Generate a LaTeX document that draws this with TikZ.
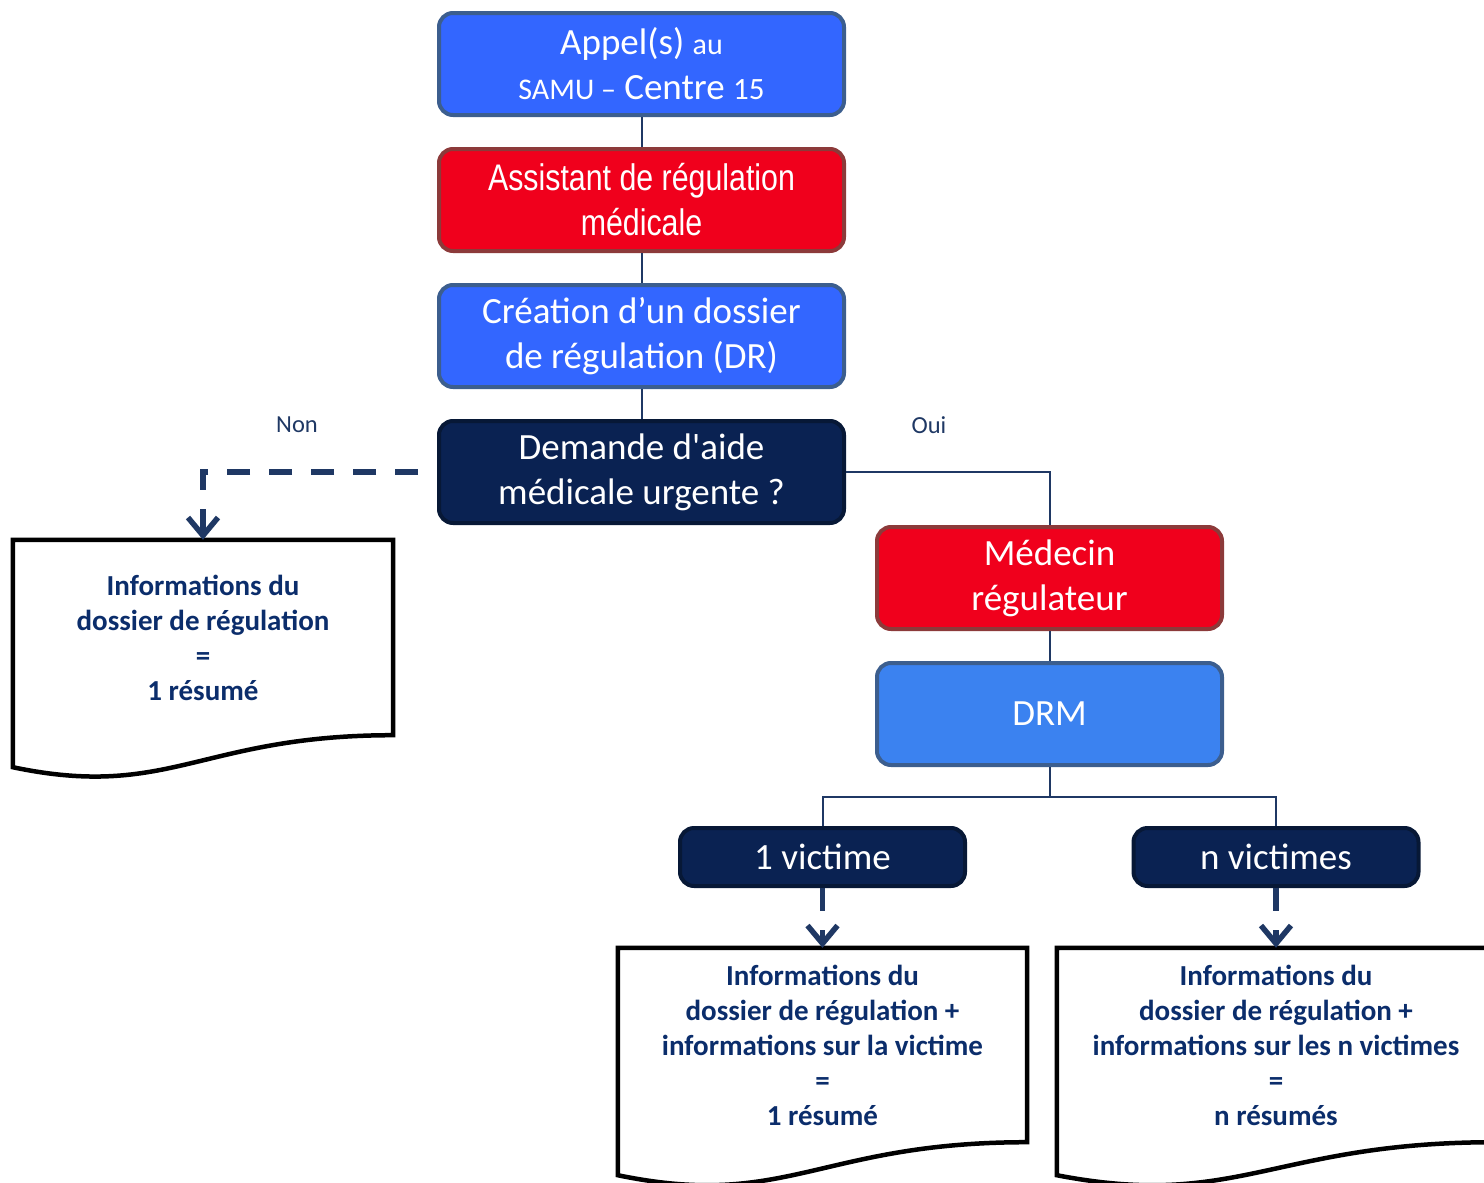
\documentclass[tikz,border=0pt]{standalone}
\usepackage{fontspec}
\setmainfont{Carlito}
\newfontfamily\narrowfont{Liberation Sans}[FakeStretch=0.82]
\newfontfamily\straightfont{Carlito}[Ligatures=ResetAll]
\usetikzlibrary{positioning,arrows.meta}

\definecolor{appelblue}{HTML}{3366FF}
\definecolor{drmblue}{HTML}{3B82F0}
\definecolor{blueedge}{HTML}{3C5E8E}
\definecolor{alertred}{HTML}{F0001C}
\definecolor{rededge}{HTML}{8C3A3A}
\definecolor{navy}{HTML}{0A2252}
\definecolor{navyedge}{HTML}{071836}
\definecolor{linkblue}{HTML}{1F3864}
\definecolor{doctext}{HTML}{0B2D6B}

\begin{document}
\begin{tikzpicture}[x=1pt, y=-1pt,
    box/.style={rectangle, rounded corners=14pt, line width=4pt, align=center,
        text=white, inner sep=0pt, minimum width=405pt, minimum height=102pt,
        font=\fontsize{37}{45}\selectfont},
    bluebox/.style={box, fill=appelblue, draw=blueedge},
    redbox/.style={box, fill=alertred, draw=rededge},
    navybox/.style={box, fill=navy, draw=navyedge},
    docbox/.style={rectangle, inner sep=0pt, align=center, text=doctext,
        font=\bfseries\fontsize{29}{35}\selectfont},
    docline/.style={draw=black, line width=4.5pt, line join=miter},
    link/.style={draw=linkblue, line width=2pt},
    flow/.style={draw=linkblue, line width=5.5pt, dash pattern=on 23pt off 19pt,
        -{Straight Barb[length=18pt,width=30pt]}},
    lbl/.style={text=linkblue, font=\fontsize{24.5}{28}\selectfont},
]
\useasboundingbox (0,0) rectangle (1484,1183);
\clip (0,0) rectangle (1484,1183);

% main column
\node[bluebox] (appel) at (641.5,64)
    {Appel(s) {\fontsize{30}{45}\selectfont au}\\
     {\fontsize{30}{45}\selectfont SAMU --} Centre {\fontsize{31}{45}\selectfont 15}};
\node[redbox, below=30pt of appel] (assistant)
    {\narrowfont Assistant de régulation\\\narrowfont médicale};
\node[bluebox, below=30pt of assistant] (creation)
    {Création d’un dossier\\de régulation (DR)};
\node[navybox, below=30pt of creation, font=\straightfont\fontsize{37}{45}\selectfont] (demande)
    {Demande d'aide\\médicale urgente ?};

% branch Oui
\node[redbox, minimum width=345pt] (medecin) at (1049.5,578) {Médecin\\régulateur};
\node[box, fill=drmblue, draw=blueedge, minimum width=345pt, below=30pt of medecin] (drm) {DRM};
\node[navybox, minimum width=285pt, minimum height=58pt] (v1) at (822.5,857) {1 victime};
\node[navybox, minimum width=285pt, minimum height=58pt] (vn) at (1276,857) {n victimes};

% documents
\node[docbox, minimum width=380pt, minimum height=195pt] (doc1) at (203,637.5)
    {Informations du\\dossier de régulation\\=\\1 résumé};
\node[docbox, minimum width=409pt, minimum height=194pt] (doc2) at (822.5,1045)
    {Informations du\\dossier de régulation +\\informations sur la victime\\=\\1 résumé};
\node[docbox, minimum width=438pt, minimum height=194pt] (doc3) at (1276,1045)
    {Informations du\\dossier de régulation +\\informations sur les n victimes\\=\\n résumés};

\draw[docline] (doc1.south east) -- (doc1.north east) -- (doc1.north west)
    -- ([yshift=-32pt]doc1.south west) .. controls +(157,33) and +(-193,0) .. (doc1.south east) -- cycle;
\draw[docline] (doc2.south east) -- (doc2.north east) -- (doc2.north west)
    -- ([yshift=-33pt]doc2.south west) .. controls +(169,35) and +(-208,0) .. (doc2.south east) -- cycle;
\draw[docline] (doc3.south east) -- (doc3.north east) -- (doc3.north west)
    -- ([yshift=-33pt]doc3.south west) .. controls +(181,35) and +(-222,0) .. (doc3.south east) -- cycle;

% connectors
\draw[link] (appel) -- (assistant);
\draw[link] (assistant) -- (creation);
\draw[link] (creation) -- (demande);
\draw[link] (demande.east) -| (medecin.north);
\draw[link] (medecin) -- (drm);
\coordinate (fork) at ([yshift=-30pt]drm.south);
\draw[link] (drm.south) -- (fork) -| (v1.north);
\draw[link] (fork) -| (vn.north);

\draw[flow, dash phase=23pt] (demande.west) -| (doc1.north);
\draw[flow] (v1.south) -- (doc2.north);
\draw[flow] (vn.south) -- (doc3.north);

\node[lbl] (non) at (297,425) {Non};
\node[lbl] (oui) at (929,425) {Oui};
\end{tikzpicture}
\end{document}
